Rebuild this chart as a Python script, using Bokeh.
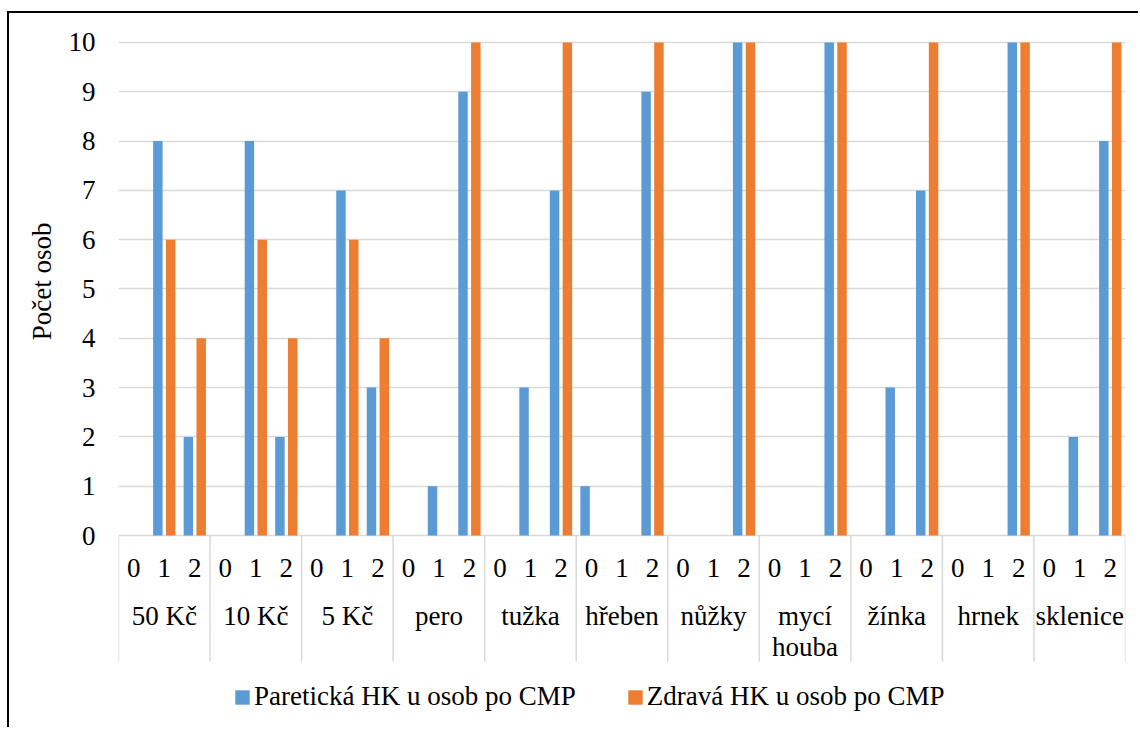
from bokeh.plotting import figure
from bokeh.models import (FactorRange, Range1d, FixedTicker, Legend, LegendItem,
                          ColumnDataSource, Title)
from bokeh.transform import dodge
from bokeh.core.properties import value
from bokeh.embed import file_html
from bokeh.resources import INLINE

# Objects handled in the test and the score (0/1/2) achieved
objects = ["50 Kč", "10 Kč", "5 Kč", "pero", "tužka", "hřeben", "nůžky",
           "mycí houba", "žínka", "hrnek", "sklenice"]
object_labels = ["50 Kč", "10 Kč", "5 Kč", "pero", "tužka", "hřeben", "nůžky",
                 "mycí\nhouba", "žínka", "hrnek", "sklenice"]
scores = ["0", "1", "2"]

# Number of persons per object and score
paretic = [[0, 8, 2], [0, 8, 2], [0, 7, 3], [0, 1, 9], [0, 3, 7], [1, 0, 9],
           [0, 0, 10], [0, 0, 10], [0, 3, 7], [0, 0, 10], [0, 2, 8]]
healthy = [[0, 6, 4], [0, 6, 4], [0, 6, 4], [0, 0, 10], [0, 0, 10], [0, 0, 10],
           [0, 0, 10], [0, 0, 10], [0, 0, 10], [0, 0, 10], [0, 0, 10]]

series_names = ["Paretická HK u osob po CMP", "Zdravá HK u osob po CMP"]
series_colors = ["#5B9BD5", "#ED7D31"]
y_ticks = list(range(0, 11))
y_title = "Počet osob"

FONT_NAME = "Liberation Serif"
FONT = value(FONT_NAME)
FS = "27px"
GRID = "#D9D9D9"

factors = [(o, s) for o in objects for s in scores]
bars = ColumnDataSource(dict(
    x=factors,
    score=[s for o in objects for s in scores],
    paretic=[v for row in paretic for v in row],
    healthy=[v for row in healthy for v in row],
))

p = figure(width=1131, height=716,
           x_range=FactorRange(*factors, factor_padding=0, group_padding=0,
                               subgroup_padding=0, range_padding=0),
           y_range=Range1d(-3.935, 10.588),
           x_axis_location=None,
           output_backend="svg", toolbar_location=None,
           min_border_left=109, min_border_right=15,
           min_border_top=0, min_border_bottom=0)
p.outline_line_color = None
p.background_fill_color = "white"
p.border_fill_color = "white"
# thin black frame around the chart area
p.styles = {"margin-left": "7px", "margin-top": "11px",
            "border-left": "2px solid black", "border-top": "2px solid black"}

# value axis
ax = p.yaxis[0]
ax.ticker = FixedTicker(ticks=y_ticks)
ax.axis_line_color = None
ax.major_tick_line_color = None
ax.minor_tick_line_color = None
ax.major_tick_out = 0
ax.major_label_standoff = 23
ax.major_label_text_font = FONT_NAME
ax.major_label_text_font_size = FS
ax.major_label_text_color = "black"

# axis title, placed in the left panel next to the tick labels
p.add_layout(Title(text=y_title, align="right", offset=209, standoff=17,
                   text_font=FONT_NAME, text_font_size=FS,
                   text_font_style="normal", text_color="black"), "left")

p.ygrid.ticker = FixedTicker(ticks=y_ticks)
p.ygrid.grid_line_color = GRID
p.ygrid.grid_line_width = 1.5
p.xgrid.grid_line_color = None

# bars
r1 = p.vbar(x=dodge("x", -0.21, range=p.x_range), top="paretic", width=0.31,
            source=bars, fill_color=series_colors[0], line_color=None)
r2 = p.vbar(x=dodge("x", 0.21, range=p.x_range), top="healthy", width=0.31,
            source=bars, fill_color=series_colors[1], line_color=None)

# category axis: separators between objects
seps = ColumnDataSource(dict(x=[(o, "0") for o in objects]))
p.segment(x0=dodge("x", -0.5, range=p.x_range), y0=0,
          x1=dodge("x", -0.5, range=p.x_range), y1=-2.556,
          source=seps, line_color=GRID, line_width=1.5)
last = ColumnDataSource(dict(x=[(objects[-1], "2")]))
p.segment(x0=dodge("x", 0.5, range=p.x_range), y0=0,
          x1=dodge("x", 0.5, range=p.x_range), y1=-2.556,
          source=last, line_color=GRID, line_width=1.5)

# score labels and object labels
p.text(x="x", y=-0.65, text="score", source=bars, text_align="center",
       text_baseline="middle", text_font=FONT, text_font_size=FS,
       text_color="black")
groups = ColumnDataSource(dict(x=[(o, "1") for o in objects], label=object_labels))
p.text(x="x", y=-1.32, text="label", source=groups, text_align="center",
       text_baseline="top", text_font=FONT, text_font_size=FS,
       text_color="black", text_line_height=1.05)

# legend
legend = Legend(items=[LegendItem(label=series_names[0], renderers=[r1]),
                       LegendItem(label=series_names[1], renderers=[r2])],
                orientation="horizontal", location=(115, 17),
                glyph_width=18, glyph_height=18, label_standoff=3,
                spacing=50, padding=0, margin=0,
                border_line_color=None, background_fill_alpha=0,
                label_text_font=FONT_NAME, label_text_font_size=FS,
                label_text_color="black")
p.add_layout(legend)

open("out.html", "w").write(file_html(p, INLINE))
